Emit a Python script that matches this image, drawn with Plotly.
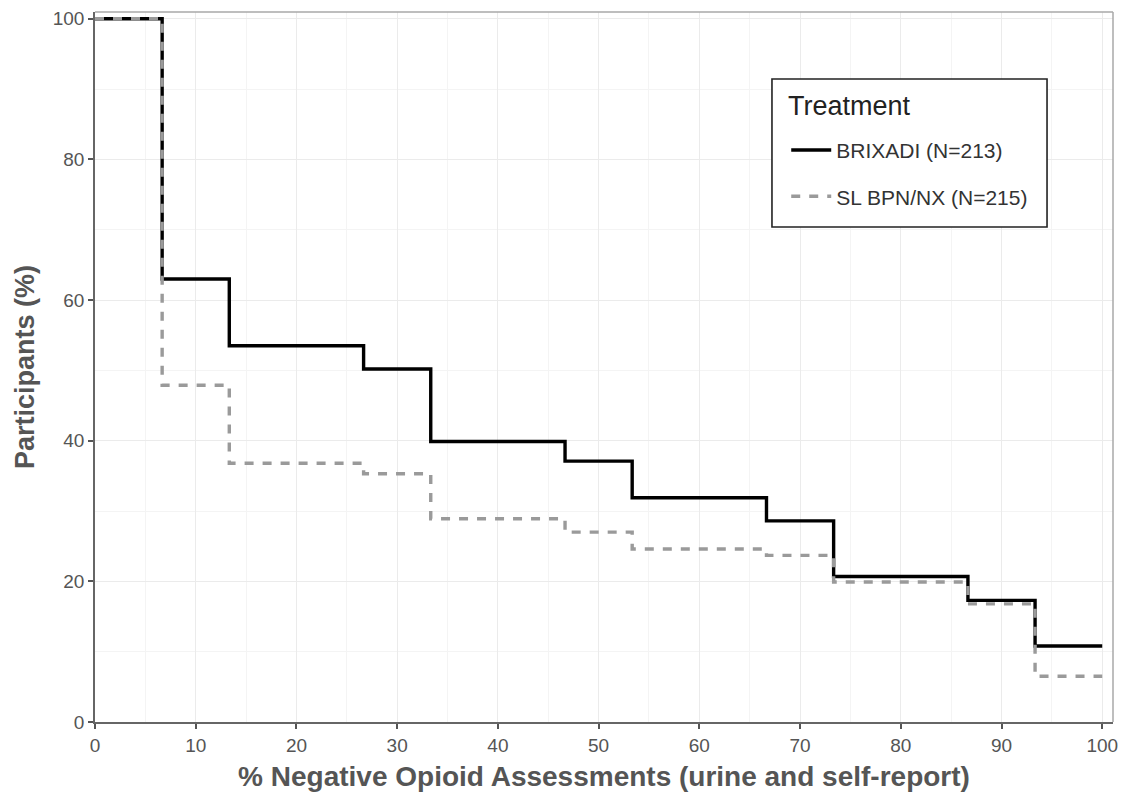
import plotly.graph_objects as go

# Step positions (% negative opioid assessments)
x_steps = [0, 6.667, 13.333, 26.667, 33.333, 46.667, 53.333, 66.667, 73.333, 86.667, 93.333, 100]
brixadi = [100, 63.0, 53.5, 50.2, 39.9, 37.1, 31.9, 28.6, 20.7, 17.3, 10.8, 10.8]
sl_bpn = [100, 47.9, 36.8, 35.3, 28.9, 27.0, 24.6, 23.7, 19.9, 16.8, 6.5, 6.5]
series_names = ["BRIXADI (N=213)", "SL BPN/NX (N=215)"]
legend_title = "Treatment"
x_ticks = [0, 10, 20, 30, 40, 50, 60, 70, 80, 90, 100]
y_ticks = [0, 20, 40, 60, 80, 100]

FONT = "Liberation Sans, Arial, sans-serif"

fig = go.Figure()
fig.add_trace(go.Scatter(
    x=x_steps, y=brixadi, mode="lines", line_shape="hv", legendgroup="a",
    name=series_names[0], line=dict(color="black", width=3.4),
))
fig.add_trace(go.Scatter(
    x=x_steps, y=sl_bpn, mode="lines", line_shape="hv", legendgroup="b",
    name=series_names[1], line=dict(color="#9a9a9a", width=3.4, dash="9px,9px"),
))

# lighter top/right panel border
fig.add_shape(type="line", xref="paper", yref="paper", x0=0, x1=1, y0=1, y1=1,
              line=dict(color="#a8a8a8", width=1.5), layer="above")
fig.add_shape(type="line", xref="paper", yref="paper", x0=1, x1=1, y0=0, y1=1,
              line=dict(color="#a8a8a8", width=1.5), layer="above")

# legend box
fig.add_shape(type="rect", xref="paper", yref="paper",
              x0=0.665, x1=0.9352, y0=0.6972, y1=0.9056,
              line=dict(color="#222222", width=1.6), fillcolor="white", layer="above")
fig.add_annotation(xref="paper", yref="paper", x=0.6788, y=0.8676,
                   xanchor="left", yanchor="middle", showarrow=False,
                   text=legend_title, font=dict(size=27, color="#222222", family=FONT))

fig.update_layout(
    width=1130, height=801,
    margin=dict(l=95, r=17, t=12, b=79),
    paper_bgcolor="white", plot_bgcolor="white",
    font=dict(family=FONT, color="#555555"),
    showlegend=True,
    legend=dict(
        x=0.679, y=0.834, xanchor="left", yanchor="top",
        bgcolor="rgba(0,0,0,0)", borderwidth=0,
        font=dict(size=21, color="#333333"),
        tracegroupgap=16, itemwidth=40,
    ),
    xaxis=dict(
        range=[0, 101.07], tickvals=x_ticks, ticktext=[str(v) for v in x_ticks],
        showgrid=True, gridcolor="#ebebeb", gridwidth=1,
        minor=dict(dtick=5, showgrid=True, gridcolor="#f4f4f4", gridwidth=1),
        showline=True, linecolor="#666666", linewidth=1.5,
        ticks="outside", ticklen=5, tickcolor="#555555", tickwidth=1.5,
        tickfont=dict(size=19, color="#555555"),
        title=dict(text="<b>% Negative Opioid Assessments (urine and self-report)</b>",
                   font=dict(size=28, color="#555555"), standoff=12),
        zeroline=False, automargin=False,
    ),
    yaxis=dict(
        range=[0, 100.97], tickvals=y_ticks, ticktext=[str(v) for v in y_ticks],
        showgrid=True, gridcolor="#ebebeb", gridwidth=1,
        minor=dict(dtick=10, showgrid=True, gridcolor="#f4f4f4", gridwidth=1),
        showline=True, linecolor="#666666", linewidth=1.5,
        ticks="outside", ticklen=5, tickcolor="#555555", tickwidth=1.5,
        tickfont=dict(size=19, color="#555555"),
        title=dict(text="<b>Participants (%)</b>",
                   font=dict(size=27, color="#555555"), standoff=10),
        zeroline=False, automargin=False,
    ),
)

fig.write_html("out.html", config={"displayModeBar": False},
               post_script="document.body.style.margin='0px';")
